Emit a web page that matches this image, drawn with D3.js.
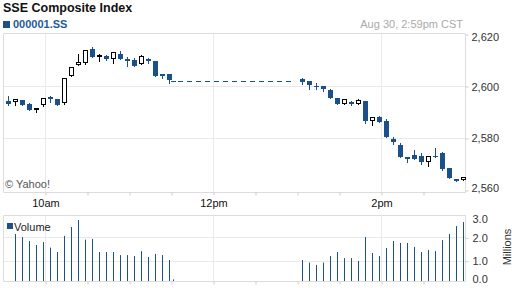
<!DOCTYPE html>
<html>
<head>
<meta charset="utf-8">
<script src="https://cdn.jsdelivr.net/npm/d3@7"></script>
<style>
  body { margin: 0; background: #fff; }
  text { font-family: "Liberation Sans", Arial, sans-serif; }
</style>
</head>
<body>
<script>
var width = 512;
var height = 288;
var blue = "#1b5089";
var plot = {left: 3, right: 465, top: 33, bottom: 192};
var vol = {top: 215, bottom: 281};

var title = "SSE Composite Index";
var symbol = "000001.SS";
var stamp = "Aug 30, 2:59pm CST";

// 5 minute candles, morning then afternoon session
var times = ["9:35","9:40","9:45","9:50","9:55","10:00","10:05","10:10","10:15","10:20","10:25","10:30",
  "10:35","10:40","10:45","10:50","10:55","11:00","11:05","11:10","11:15","11:20","11:25","11:30","11:33",
  "13:05","13:10","13:15","13:20","13:25","13:30","13:35","13:40","13:45","13:50","13:55","14:00",
  "14:05","14:10","14:15","14:20","14:25","14:30","14:35","14:40","14:45","14:50","14:55","15:00"];
var open = [2594.3,2594.0,2594.6,2593.1,2591.2,2592.8,2595.8,2594.9,2593.6,2603.7,2607.9,2609.0,
  2614.2,2611.0,2611.7,2610.3,2612.3,2610.5,2610.0,2608.5,2610.5,2609.6,2604.7,2604.7,2601.8,
  2602.8,2601.9,2600.1,2600.0,2598.5,2595.4,2593.0,2594.0,2593.0,2594.2,2586.7,2588.1,
  2586.5,2579.5,2577.3,2572.7,2573.3,2573.1,2570.7,2573.1,2574.4,2568.5,2564.2,2563.7];
var high = [2596.2,2594.9,2594.6,2593.6,2591.5,2595.4,2596.3,2594.9,2603.0,2607.2,2612.3,2613.7,
  2615.0,2612.3,2611.9,2613.0,2613.6,2611.2,2610.8,2612.0,2610.9,2609.6,2604.7,2604.7,2601.8,
  2603.2,2601.9,2601.0,2600.0,2598.8,2595.4,2594.9,2594.4,2595.0,2594.2,2588.1,2588.6,
  2587.2,2580.5,2578.2,2572.7,2575.3,2574.2,2573.0,2576.0,2574.7,2568.5,2564.2,2564.9];
var low = [2592.8,2592.8,2592.8,2590.9,2590.1,2592.3,2594.0,2592.8,2593.2,2603.7,2607.9,2608.6,
  2611.3,2609.7,2610.1,2608.8,2610.3,2607.8,2607.8,2608.5,2609.0,2604.0,2603.2,2601.3,2601.8,
  2600.9,2598.8,2598.7,2598.2,2595.5,2593.2,2593.0,2592.8,2593.0,2585.8,2585.0,2586.2,
  2580.3,2577.6,2572.6,2570.9,2572.0,2570.1,2569.3,2572.8,2567.7,2564.4,2563.6,2563.7];
var close = [2593.2,2594.9,2592.8,2590.9,2591.5,2595.4,2595.0,2592.8,2603.0,2607.2,2609.4,2613.7,
  2611.3,2612.0,2610.5,2613.0,2610.3,2609.7,2607.8,2611.7,2609.7,2604.0,2604.0,2602.3,2601.8,
  2601.5,2600.5,2599.7,2599.0,2595.5,2593.2,2594.9,2593.2,2594.6,2586.5,2588.1,2586.2,
  2580.3,2578.6,2572.6,2571.9,2572.0,2570.9,2573.0,2572.8,2568.2,2564.4,2563.6,2564.9];
// millions
var volume = [null,2.14,2.01,1.84,1.67,1.80,1.56,1.37,2.06,2.44,2.74,1.90,
  1.93,1.37,1.37,1.37,1.24,1.24,1.20,1.41,1.16,1.29,1.24,1.03,0.2,
  1.03,0.92,0.82,0.92,1.20,1.37,1.11,1.11,0.99,2.01,1.33,1.20,
  1.54,1.84,1.76,1.76,1.59,1.37,1.46,1.41,1.88,2.14,2.48,2.65];

var axisTicks = ["10:00","10:30","11:00","11:30","12:00","12:30","13:00","13:30","14:00","14:30"];
var hourTicks = ["10:00","12:00","14:00"];
var hourLabels = ["10am","12pm","2pm"];
var priceTicks = [2560, 2580, 2600, 2620];
var volumeTicks = [0, 1, 2, 3];
var lunchBreak = ["11:35", "12:56"];

function toMin(s) {
    var p = s.split(":");
    return +p[0] * 60 + +p[1];
}

var data = times.map(function(t, i) {
    return {t: toMin(t), open: open[i], high: high[i], low: low[i], close: close[i], volume: volume[i]};
});

//Scales
var x = d3.scaleLinear().domain([toMin("9:30"), toMin("15:00")]).range([plot.left, plot.right]);
var y = d3.scaleLinear().domain([2559.2, 2620.4]).range([plot.bottom, plot.top]);
var yv = d3.scaleLinear().domain([0, 3]).range([284.1, 213.9]);

var barShift = -1.5;
var cx = d => Math.round(x(d.t) + barShift - 0.5) + 0.5;
var px = v => Math.round(v) + 0.5;

const svg = d3.select("body")
    .append("svg")
    .attr("width", width)
    .attr("height", height);

//Header
svg.append("text")
    .attr("x", 3).attr("y", 12)
    .attr("font-size", 12.5).attr("font-weight", "bold").attr("fill", "#111")
    .text(title);
svg.append("rect")
    .attr("x", 3).attr("y", 21).attr("width", 7).attr("height", 7)
    .attr("fill", blue);
svg.append("text")
    .attr("x", 13).attr("y", 28)
    .attr("font-size", 11).attr("font-weight", "bold").attr("fill", "#1f5a96")
    .text(symbol);
svg.append("text")
    .attr("x", 463).attr("y", 28).attr("text-anchor", "end")
    .attr("font-size", 11).attr("fill", "#aaa")
    .text(stamp);

//Grid
var grid = svg.append("g").attr("stroke", "#e8e9ee").attr("stroke-width", 1);
hourTicks.forEach(function(t) {
    var gx = px(x(toMin(t)));
    grid.append("line").attr("x1", gx).attr("x2", gx).attr("y1", plot.top).attr("y2", plot.bottom);
    grid.append("line").attr("x1", gx).attr("x2", gx).attr("y1", vol.top).attr("y2", vol.bottom);
});
priceTicks.filter(p => y(p) > plot.top + 3 && y(p) < plot.bottom - 3).forEach(function(p) {
    grid.append("line").attr("x1", plot.left).attr("x2", plot.right)
        .attr("y1", px(y(p))).attr("y2", px(y(p)));
});
volumeTicks.filter(v => yv(v) > vol.top + 3 && yv(v) < vol.bottom - 3).forEach(function(v) {
    grid.append("line").attr("x1", plot.left).attr("x2", plot.right)
        .attr("y1", px(yv(v))).attr("y2", px(yv(v)));
});

//Borders
var border = svg.append("g").attr("stroke", "#dcdcdc").attr("fill", "none");
[[plot.top, plot.bottom], [vol.top, vol.bottom]].forEach(function(b) {
    border.append("path")
        .attr("d", "M" + (plot.right + 0.5) + "," + (b[0] + 0.5) + "H" + (plot.left + 0.5) +
            "V" + (b[1] + 0.5) + "H" + (plot.right + 0.5) + "V" + (b[0] + 0.5));
});

//Axes
var fmtTime = t => {
    var i = hourTicks.map(toMin).indexOf(t);
    return i < 0 ? "" : hourLabels[i];
};
var xAxisCall = d3.axisBottom(x).tickValues(axisTicks.map(toMin)).tickSize(3).tickPadding(4).tickFormat(fmtTime);
var xAxisVol = d3.axisBottom(x).tickValues(axisTicks.map(toMin)).tickSize(3).tickFormat("");
var yAxisCall = d3.axisRight(y).tickValues(priceTicks).tickSize(3).tickPadding(3).tickFormat(d3.format(","));
var yvAxisCall = d3.axisRight(yv).tickValues(volumeTicks).tickSize(3).tickPadding(4).tickFormat(d3.format(".1f"));

function styleAxis(sel, lo, hi, scale) {
    sel.select(".domain").remove();
    sel.selectAll("line").attr("stroke", "#ccc");
    sel.selectAll("text")
        .attr("font-family", "Liberation Sans, Arial, sans-serif")
        .attr("font-size", 11).attr("fill", "#333");
    if (scale) {
        sel.selectAll(".tick").each(function(d) {
            var ty = scale(d);
            d3.select(this).select("line").attr("display", ty < lo - 4 || ty > hi + 4 ? "none" : null);
            d3.select(this).select("text").attr("y", Math.max(lo, Math.min(hi, ty)) - ty);
        });
    }
}

var xAxisGroup = svg.append("g").attr("transform", "translate(0.5," + (plot.bottom + 0.5) + ")").call(xAxisCall);
styleAxis(xAxisGroup);
xAxisGroup.selectAll("text").attr("fill", "#111");
var xVolGroup = svg.append("g").attr("transform", "translate(0.5," + (vol.bottom + 0.5) + ")").call(xAxisVol);
styleAxis(xVolGroup);
var yAxisGroup = svg.append("g").attr("transform", "translate(" + (plot.right + 0.5) + ",0.5)").call(yAxisCall);
styleAxis(yAxisGroup, 36.5, 187, y);
var yvAxisGroup = svg.append("g").attr("transform", "translate(" + (plot.right + 0.5) + ",0.5)").call(yvAxisCall);
styleAxis(yvAxisGroup, 218, 278, yv);

svg.append("text")
    .attr("transform", "translate(511,247) rotate(-90)")
    .attr("text-anchor", "middle")
    .attr("font-size", 11).attr("fill", "#333")
    .text("Millions");

svg.append("text")
    .attr("x", 5).attr("y", 188)
    .attr("font-size", 11).attr("fill", "#555")
    .text("\u00a9 Yahoo!");

//Lunch break
var lastAm = data[times.indexOf("11:33")];
svg.append("line")
    .attr("x1", x(toMin(lunchBreak[0]))).attr("x2", x(toMin(lunchBreak[1])))
    .attr("y1", px(y(lastAm.close))).attr("y2", px(y(lastAm.close)))
    .attr("stroke", blue).attr("stroke-dasharray", "5,4");

//Candles
var candles = svg.append("g").selectAll("g").data(data).enter().append("g");

candles.append("line")
    .attr("x1", cx).attr("x2", cx)
    .attr("y1", d => Math.round(y(d.high))).attr("y2", d => Math.round(y(d.low)) + 1)
    .attr("stroke", d => d.close > d.open ? "#000" : blue);

candles.filter(d => d.close <= d.open).append("rect")
    .attr("x", d => cx(d) - 2.5)
    .attr("width", 5)
    .attr("y", d => Math.round(y(d.open)))
    .attr("height", d => Math.max(1, Math.round(y(d.close)) - Math.round(y(d.open))))
    .attr("fill", blue);

candles.filter(d => d.close > d.open).append("rect")
    .attr("x", d => cx(d) - 2)
    .attr("width", 4)
    .attr("y", d => Math.round(y(d.close)) + 0.5)
    .attr("height", d => Math.max(1, Math.round(y(d.open)) - Math.round(y(d.close)) - 1))
    .attr("fill", "#fff").attr("stroke", "#000");

//Volume
svg.append("g").selectAll("rect")
    .data(data.filter(d => d.volume != null))
    .enter().append("rect")
    .attr("x", d => cx(d) - 0.5)
    .attr("width", 1)
    .attr("y", d => yv(d.volume))
    .attr("height", d => vol.bottom - yv(d.volume))
    .attr("fill", blue);

svg.append("rect")
    .attr("x", 7).attr("y", 223).attr("width", 6).attr("height", 6)
    .attr("fill", blue);
svg.append("text")
    .attr("x", 14).attr("y", 231)
    .attr("font-size", 11).attr("fill", "#222")
    .text("Volume");
</script>
</body>
</html>
